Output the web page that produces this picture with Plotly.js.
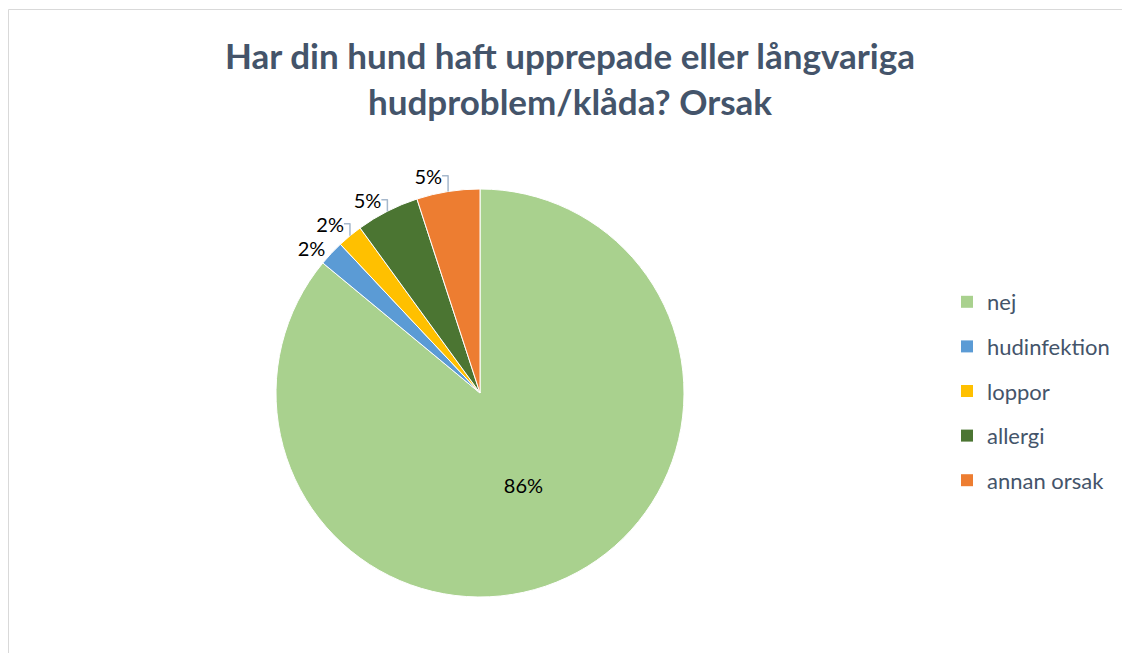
<!DOCTYPE html>
<html><head><meta charset="utf-8">
<script src="https://cdn.plot.ly/plotly-3.0.1.min.js"></script>
<style>html,body{margin:0;padding:0;overflow:hidden;background:#fff}#chart{width:1122px;height:653px}
path.textline{stroke:#a6b8cc !important;stroke-width:1.5px !important}</style>
</head><body><div id="chart"></div>
<script>
const labels = ["nej", "hudinfektion", "loppor", "allergi", "annan orsak"];
const values = [86, 2, 2, 5, 5];
const colors = ["#a9d18e", "#5b9bd5", "#ffc000", "#4b7532", "#ed7d31"];
const titleText = "Har din hund haft upprepade eller långvariga<br>hudproblem/klåda? Orsak";

const W = 1122, H = 653;
const FONT = "Lato, 'Open Sans', sans-serif";
const pie = {
  type: "pie", labels: labels, values: values, sort: false,
  direction: "clockwise", rotation: 0,
  marker: {colors: colors, line: {color: "#ffffff", width: 1}},
  textinfo: "percent", texttemplate: "%{percent:.0%}",
  textposition: ["inside", "outside", "outside", "outside", "outside"],
  insidetextorientation: "horizontal",
  textfont: {family: FONT, size: 20, color: "#000000"},
  outsidetextfont: {family: FONT, size: 20, color: "#000000"},
  insidetextfont: {family: FONT, size: 20, color: "#000000"},
  showlegend: false, hoverinfo: "label+percent",
  domain: {x: [276/W, 684/W], y: [(H-597)/H, (H-189)/H]}
};
const legendTraces = labels.map((l, i) => ({
  type: "scatter", x: [null], y: [null], name: l, mode: "markers",
  legendgroup: "g" + i,
  marker: {symbol: "square", size: 12, color: colors[i]},
  hoverinfo: "skip"
}));
const layout = {
  width: W, height: H,
  margin: {l: 0, r: 0, t: 0, b: 0},
  paper_bgcolor: "#ffffff", plot_bgcolor: "#ffffff",
  title: {text: titleText, x: 570/W, xref: "paper", xanchor: "center",
    y: 1 - 69/H, yref: "paper", yanchor: "middle",
    font: {family: FONT, size: 35, color: "#44546a", weight: "bold"}},
  xaxis: {visible: false}, yaxis: {visible: false},
  showlegend: true,
  legend: {x: 947/W, xanchor: "left", y: 1 - 281/H, yanchor: "top",
    tracegroupgap: 13, itemwidth: 30,
    font: {family: FONT, size: 22, color: "#44546a"},
    bgcolor: "rgba(0,0,0,0)"},
  shapes: [
    {type: "line", xref: "paper", yref: "paper", x0: 8.5/W, x1: 8.5/W, y0: 0, y1: 1 - 9.5/H, line: {color: "#d9d9d9", width: 1}},
    {type: "line", xref: "paper", yref: "paper", x0: 8.5/W, x1: 1, y0: 1 - 9.5/H, y1: 1 - 9.5/H, line: {color: "#d9d9d9", width: 1}}
  ]
};
Plotly.newPlot("chart", [pie].concat(legendTraces), layout, {displayModeBar: false, staticPlot: true});
</script></body></html>
